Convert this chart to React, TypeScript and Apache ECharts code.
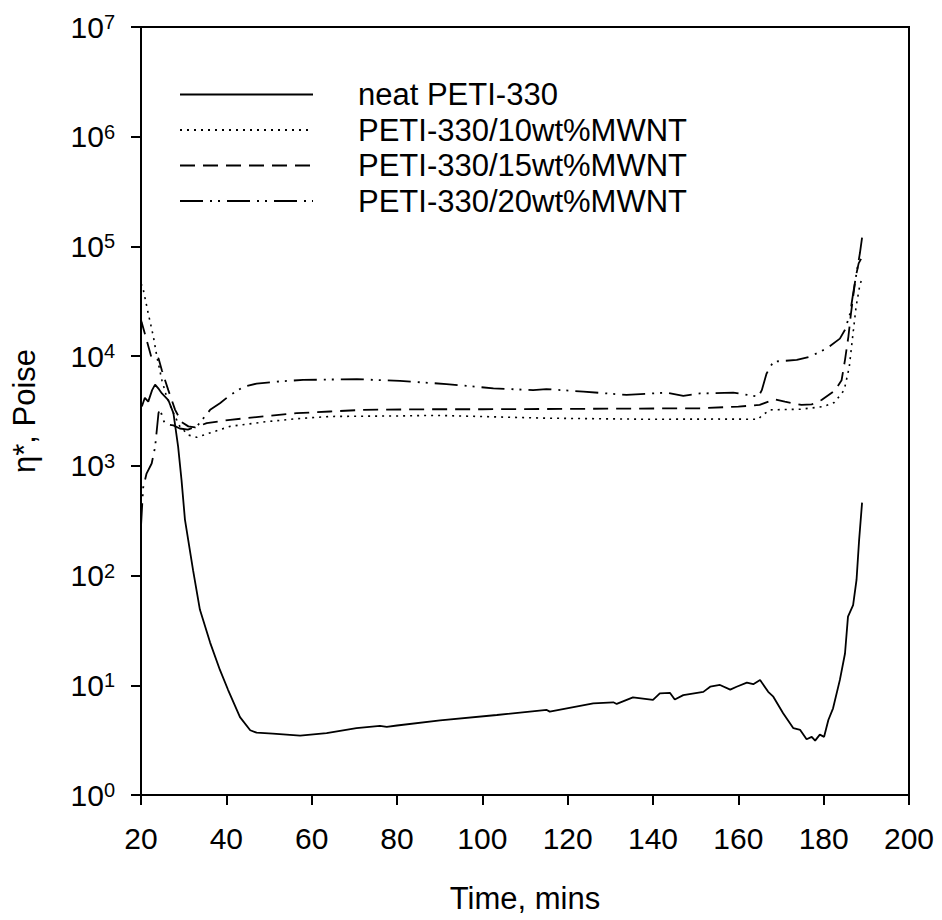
import React, { useEffect, useRef } from "react";
import * as echarts from "echarts";

const seriesNames = [
  "neat PETI-330",
  "PETI-330/10wt%MWNT",
  "PETI-330/15wt%MWNT",
  "PETI-330/20wt%MWNT",
];

const xTicks = [20, 40, 60, 80, 100, 120, 140, 160, 180, 200];

const neat: [number, number][] = [
  [20.2, 3470], [20.9, 4170], [21.7, 3850], [22.6, 4900], [23.3, 5500], [24.2, 5000],
  [24.9, 4570], [26.4, 3980], [27.6, 3020], [28.7, 1500], [29.5, 741], [30.3, 324],
  [32.2, 112], [33.8, 49], [36.2, 24.5], [38.5, 13.8], [40.4, 9.1], [43.2, 5.13],
  [45.6, 3.89], [47.1, 3.7], [50.9, 3.63], [57.3, 3.47], [63.5, 3.67], [70.5, 4.07],
  [76.0, 4.26], [77.6, 4.17], [80.0, 4.3], [90.1, 4.79], [103.4, 5.36], [115.1, 5.96],
  [115.8, 5.75], [126.0, 6.85], [130.7, 7.0], [131.5, 6.76], [135.3, 7.76], [140.0, 7.35],
  [141.6, 8.45], [144.0, 8.51], [145.1, 7.41], [147.1, 8.13], [151.8, 8.71], [153.4, 9.7],
  [155.7, 10.07], [158.1, 9.12], [159.6, 9.7], [162.0, 10.57], [163.5, 10.23], [165.1, 11.17],
  [167.0, 8.71], [168.2, 7.87], [170.5, 5.56], [172.9, 4.06], [174.5, 3.92], [176.0, 3.22],
  [177.2, 3.39], [178.0, 3.13], [179.1, 3.55], [180.1, 3.39], [181.1, 4.83], [182.2, 6.17],
  [183.8, 11.2], [185.0, 19.5], [185.7, 42.2], [186.9, 53.7], [187.7, 91.2], [188.3, 209],
  [189.0, 462],
];

const mwnt10: [number, number][] = [
  [20.0, 45700], [20.4, 42700], [21.7, 24500], [22.9, 15100], [23.7, 10000], [24.9, 6030],
  [26.0, 4270], [27.6, 3020], [29.1, 2290], [31.1, 1910], [33.1, 1820], [36.9, 2040],
  [40.9, 2290], [48.7, 2510], [56.5, 2690], [64.3, 2820], [80.0, 2850], [87.7, 2880],
  [91.5, 2870], [115.0, 2720], [138.0, 2660], [155.0, 2670], [164.7, 2660], [165.5, 2880],
  [167.5, 3240], [174.5, 3280], [180.0, 3470], [182.5, 3780], [184.8, 4900], [186.0, 7940],
  [186.8, 15100], [187.6, 28200], [188.4, 42700], [189.0, 52000],
];

const mwnt15: [number, number][] = [
  [20.0, 21400], [20.2, 20000], [21.3, 14100], [22.5, 9550], [24.1, 9550], [24.9, 7410],
  [26.4, 4900], [28.0, 3240], [29.5, 2510], [31.1, 2290], [32.7, 2240], [35.4, 2450],
  [40.9, 2630], [48.7, 2820], [56.5, 3020], [64.3, 3130], [72.1, 3240], [87.7, 3280],
  [100.0, 3280], [123.5, 3310], [151.0, 3350], [160.0, 3470], [165.0, 3590], [168.5, 4050],
  [170.9, 3850], [174.8, 3590], [177.2, 3630], [179.5, 3980], [182.6, 4850], [184.2, 6030],
  [185.0, 9230], [185.8, 15100], [186.4, 24500], [187.0, 37200], [187.5, 52500], [188.2, 70000],
  [189.0, 80000],
];

const mwnt20: [number, number][] = [
  [20.0, 282], [20.5, 631], [21.3, 851], [22.5, 1050], [23.3, 1480], [24.1, 3020],
  [24.4, 3310], [25.6, 2400], [27.6, 2340], [29.1, 2190], [31.0, 2140], [33.1, 2290],
  [36.2, 3240], [38.5, 3720], [40.9, 4420], [44.0, 5250], [47.1, 5620], [52.6, 5890],
  [58.0, 6070], [70.6, 6170], [80.7, 5940], [91.6, 5570], [102.6, 5090], [111.9, 4900],
  [115.0, 5010], [123.7, 4750], [133.8, 4430], [143.2, 4650], [147.1, 4340], [151.0, 4570],
  [158.8, 4650], [164.7, 4270], [165.5, 4900], [166.6, 6920], [168.2, 8910], [173.7, 9230],
  [176.8, 9890], [180.7, 11750], [183.8, 14450], [185.0, 17400], [186.2, 24500], [186.9, 37200],
  [187.7, 56900], [188.5, 87100], [189.0, 120000],
];

const seriesData = [neat, mwnt10, mwnt15, mwnt20];
const dashTypes: any[] = ["solid", [2, 5], [15, 8], [23, 7, 2, 6, 2, 7]];

const FONT = "'Liberation Sans', Arial, Helvetica, sans-serif";

export default function App() {
  const ref = useRef<HTMLDivElement>(null);
  useEffect(() => {
    const chart = echarts.init(ref.current!, null, { renderer: "svg" });
    chart.setOption({
      animation: false,
      backgroundColor: "#fff",
      textStyle: { fontFamily: FONT, color: "#000" },
      grid: {
        left: 141,
        right: 33,
        top: 27,
        bottom: 125,
        show: true,
        borderColor: "#000",
        borderWidth: 2,
      },
      legend: {
        orient: "vertical",
        left: 174,
        top: 74,
        itemWidth: 133,
        itemHeight: 14,
        itemGap: 4.5,
        data: seriesNames,
        itemStyle: { opacity: 0 },
        textStyle: { fontSize: 31, color: "#000", fontFamily: FONT, padding: [0, 0, 0, 40] },
      },
      xAxis: {
        type: "value",
        min: xTicks[0],
        max: xTicks[xTicks.length - 1],
        interval: 20,
        name: "Time, mins",
        nameLocation: "middle",
        nameGap: 88,
        nameTextStyle: { fontSize: 31, color: "#000", fontFamily: FONT },
        axisLine: { onZero: false, lineStyle: { color: "#000", width: 2 } },
        axisTick: { length: 10, lineStyle: { color: "#000", width: 2 } },
        axisLabel: { fontSize: 30, color: "#000", fontFamily: FONT, margin: 28 },
        splitLine: { show: false },
      },
      yAxis: {
        type: "log",
        logBase: 10,
        min: 1,
        max: 1e7,
        splitNumber: 7,
        name: "η*, Poise",
        nameLocation: "middle",
        nameGap: 101,
        nameTextStyle: { fontSize: 31, color: "#000", fontFamily: FONT },
        axisLine: { lineStyle: { color: "#000", width: 2 } },
        axisTick: { length: 10, lineStyle: { color: "#000", width: 2 } },
        axisLabel: {
          margin: 26,
          formatter: (v: number) => `{b|10}{s|${Math.round(Math.log10(v))}}`,
          rich: {
            b: { fontSize: 30, color: "#000", fontFamily: FONT },
            s: { fontSize: 20, color: "#000", fontFamily: FONT, verticalAlign: "top" },
          },
        },
        splitLine: { show: false },
      },
      series: seriesNames.map((name, i) => ({
        name,
        type: "line",
        data: seriesData[i],
        symbol: "none",
        showSymbol: false,
        lineStyle: { color: "#000", width: i === 1 ? 1.6 : 1.8, type: dashTypes[i] },
        itemStyle: { color: "#000" },
      })),
    });
    return () => chart.dispose();
  }, []);
  return (
    <div
      ref={ref}
      style={{ position: "absolute", left: 0, top: 0, width: 942, height: 920, background: "#fff" }}
    />
  );
}
